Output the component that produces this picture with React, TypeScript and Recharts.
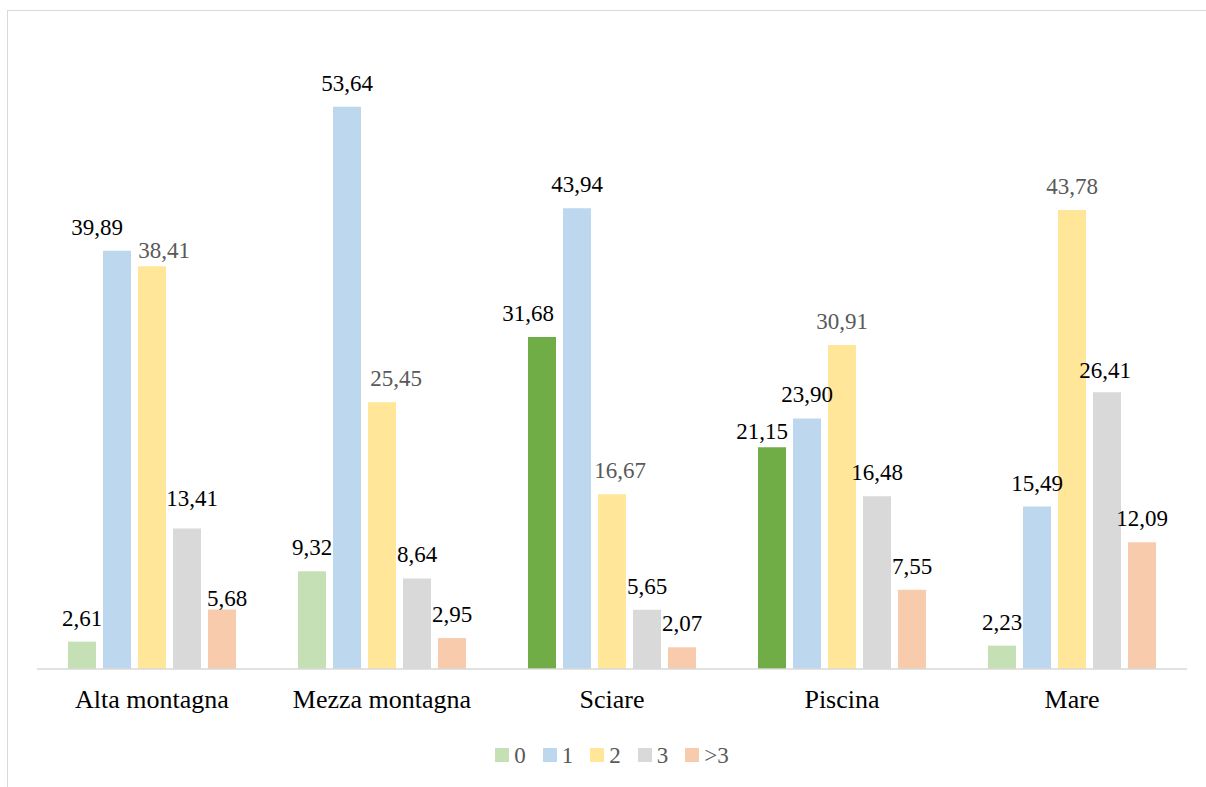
import React from 'react';
import { BarChart, Bar, XAxis, YAxis, Legend, LabelList, Cell } from 'recharts';

const categories = ['Alta montagna', 'Mezza montagna', 'Sciare', 'Piscina', 'Mare'];
const s0 = [2.61, 9.32, 31.68, 21.15, 2.23];
const s1 = [39.89, 53.64, 43.94, 23.9, 15.49];
const s2 = [38.41, 25.45, 16.67, 30.91, 43.78];
const s3 = [13.41, 8.64, 5.65, 16.48, 26.41];
const s4 = [5.68, 2.95, 2.07, 7.55, 12.09];
const seriesNames = ['0', '1', '2', '3', '>3'];
const highlighted0 = ['Sciare', 'Piscina'];

const colors = ['#C5E0B4', '#BDD7EE', '#FFE699', '#D9D9D9', '#F8CBAD'];
const darkGreen = '#70AD47';
const labelColors = ['#000000', '#000000', '#595959', '#000000', '#000000'];

// manual label nudges [dx, dy] per series key and category index (as in the original)
const labelNudges: Record<string, Record<number, [number, number]>> = {
  s0: { 2: [-14, 0], 3: [-10, 8] },
  s1: { 0: [-20, 0] },
  s2: { 0: [12, 8], 1: [14, 0], 2: [8, 0] },
  s3: { 0: [5, -6], 4: [-2, 2] },
  s4: { 0: [5, 13] },
};

const data = categories.map((c, i) => ({
  name: c,
  s0: s0[i],
  s1: s1[i],
  s2: s2[i],
  s3: s3[i],
  s4: s4[i],
}));

const FONT = 'Liberation Serif';
const fmt = (v: any) => Number(v).toFixed(2).replace('.', ',');

const makeLabel = (key: string, color: string) => (props: any) => {
  const vb = props.viewBox || {};
  const x = props.x ?? vb.x;
  const y = props.y ?? vb.y;
  const w = props.width ?? vb.width;
  const idx = props.index;
  const nudge = (labelNudges[key] && labelNudges[key][idx]) || [0, 0];
  return (
    <text
      x={x + w / 2 + nudge[0]}
      y={y - 16 + nudge[1]}
      textAnchor="middle"
      fontFamily={FONT}
      fontSize={23}
      fill={color}
    >
      {fmt(props.value)}
    </text>
  );
};

const LegendContent = () => (
  <div style={{ display: 'flex', justifyContent: 'center', alignItems: 'center', height: 30, fontFamily: FONT }}>
    {seriesNames.map((n, i) => (
      <div key={n} style={{ display: 'flex', alignItems: 'center', marginRight: i < seriesNames.length - 1 ? 17 : 0 }}>
        <span style={{ display: 'inline-block', width: 14, height: 14, background: colors[i], marginRight: 5 }} />
        <span style={{ fontSize: 23, color: '#595959', lineHeight: '23px' }}>{n}</span>
      </div>
    ))}
  </div>
);

const Tick = (props: any) => {
  const { x, y, payload } = props;
  return (
    <text x={x} y={y} dy={18} textAnchor="middle" fontFamily={FONT} fontSize={26} fill="#000">
      {payload.value}
    </text>
  );
};

export default function App() {
  const keys = ['s0', 's1', 's2', 's3', 's4'];
  return (
    <div style={{ position: 'absolute', left: 0, top: 0, width: 1206, height: 787, background: '#fff', overflow: 'hidden', fontFamily: FONT }}>
      <div style={{ position: 'absolute', left: 7, top: 10, width: 1230, height: 800, borderTop: '1.5px solid #D9D9D9', borderLeft: '1.5px solid #D9D9D9', boxSizing: 'border-box' }} />
      <div style={{ position: 'absolute', left: 0, top: 0 }}>
        <BarChart
          width={1206}
          height={787}
          data={data}
          margin={{ top: 40, right: 19, left: 37, bottom: 17 }}
          barCategoryGap={31}
          barGap={7}
        >
          <XAxis
            dataKey="name"
            height={71}
            axisLine={{ stroke: '#D9D9D9', strokeWidth: 1.5 }}
            tickLine={false}
            tickSize={0}
            tickMargin={21}
            tick={<Tick />}
            interval={0}
          />
          <YAxis hide domain={[0, 60]} />
          <Legend verticalAlign="bottom" content={<LegendContent />} />
          {keys.map((k, i) => (
            <Bar key={k} dataKey={k} name={seriesNames[i]} fill={colors[i]} isAnimationActive={false}>
              {i === 0 &&
                data.map((d) => (
                  <Cell key={d.name} fill={highlighted0.includes(d.name) ? darkGreen : colors[0]} />
                ))}
              <LabelList dataKey={k} content={makeLabel(k, labelColors[i])} />
            </Bar>
          ))}
        </BarChart>
      </div>
    </div>
  );
}
